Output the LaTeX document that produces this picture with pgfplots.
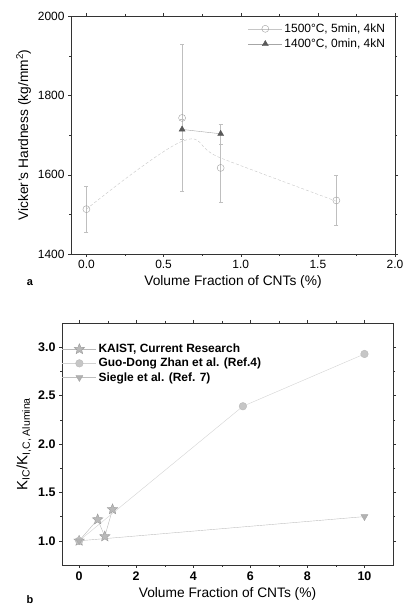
\documentclass[border=0pt]{standalone}
\usepackage{pgfplots}
\pgfplotsset{compat=1.18}
\usepackage{fontspec}
\setmainfont{Liberation Sans}

% filled five-point star
\pgfdeclareplotmark{fstar}{%
  \pgfpathmoveto{\pgfpointpolar{90}{\pgfplotmarksize}}%
  \pgfpathlineto{\pgfpointpolar{126}{0.45\pgfplotmarksize}}%
  \pgfpathlineto{\pgfpointpolar{162}{\pgfplotmarksize}}%
  \pgfpathlineto{\pgfpointpolar{198}{0.45\pgfplotmarksize}}%
  \pgfpathlineto{\pgfpointpolar{234}{\pgfplotmarksize}}%
  \pgfpathlineto{\pgfpointpolar{270}{0.45\pgfplotmarksize}}%
  \pgfpathlineto{\pgfpointpolar{306}{\pgfplotmarksize}}%
  \pgfpathlineto{\pgfpointpolar{342}{0.45\pgfplotmarksize}}%
  \pgfpathlineto{\pgfpointpolar{18}{\pgfplotmarksize}}%
  \pgfpathlineto{\pgfpointpolar{54}{0.45\pgfplotmarksize}}%
  \pgfpathclose
  \pgfusepathqfillstroke
}

\pgfplotsset{
  common/.style={
    scale only axis,
    axis line style={black!80},
    tick align=outside,
    major tick length=3bp,
    minor tick length=2bp,
    tick style={black!80},
    /pgf/number format/assume math mode=true,
    /pgf/number format/1000 sep={},
    label style={font=\fontsize{13.8}{15}\selectfont},
    legend cell align=left,
    legend image code/.code={\draw[mark repeat=2,mark phase=2]
      plot coordinates {(0bp,0bp) (17bp,0bp) (34bp,0bp)};},
  }
}

\begin{document}
\begin{tikzpicture}[x=1bp,y=1bp]
\useasboundingbox (0,0) rectangle (406,609);

% ---- panel a
\begin{axis}[common,
  at={(71bp,355bp)}, anchor=south west,
  width=324bp, height=238bp,
  xmin=-0.1, xmax=2.0, ymin=1400, ymax=2000,
  xtick={0,0.5,1,1.5,2}, ytick={1400,1600,1800,2000},
  minor x tick num=1, minor y tick num=1,
  xticklabel style={/pgf/number format/.cd, fixed, fixed zerofill, precision=1},
  tick label style={font=\fontsize{12}{13}\selectfont},
  xlabel={Volume Fraction of CNTs (\%)},
  ylabel={Vicker's Hardness (kg/mm\textsuperscript{2})},
  legend style={draw=none, fill=none, at={(0.985,0.985)}, anchor=north east,
    font=\fontsize{12}{13}\selectfont, row sep=1bp},
]
  \addlegendimage{gray!45, thin, mark=o, mark size=3.5bp, mark options={gray!75, fill=white}}
  \addlegendentry{1500°C, 5min, 4kN}
  \addlegendimage{gray!70, thin, mark=triangle*, mark size=3.5bp, mark options={black!65}}
  \addlegendentry{1400°C, 0min, 4kN}

  % B-spline-like connecting line of the 1500 C series
  \addplot[gray!45, thin, densely dashed, smooth, tension=0.6, forget plot] coordinates {
    (0,1513) (0.62,1684) (0.87,1642) (1.62,1533)
  };
  \addplot[forget plot, draw=none, mark=o, mark size=3.5bp, mark options={gray!75, fill=white},
    error bars/.cd, y dir=both, y explicit,
    error bar style={gray!50}, error mark options={gray!50, rotate=90, mark size=2bp}]
    coordinates {
    (0,1513) +- (0,59)
    (0.62,1743) +- (0,185)
    (0.87,1617) +- (0,86)
    (1.62,1535) +- (0,63)
  };
  \addplot[forget plot, gray!70, thin, mark=triangle*, mark size=3.5bp, mark options={black!65},
    error bars/.cd, y dir=both, y explicit,
    error bar style={gray!50}, error mark options={gray!50, rotate=90, mark size=2bp}]
    coordinates {
    (0.62,1714) +- (0,25)
    (0.87,1703) +- (0,25)
  };
\end{axis}
\node[font=\bfseries\fontsize{11}{12}\selectfont] at (30,326) {a};

% ---- panel b
\begin{axis}[common,
  at={(62bp,44bp)}, anchor=south west,
  width=331bp, height=242bp,
  xmin=-0.6, xmax=11, ymin=0.75, ymax=3.25,
  xtick={0,2,4,6,8,10}, ytick={1,1.5,2,2.5,3},
  minor x tick num=1, minor y tick num=1,
  yticklabel style={/pgf/number format/.cd, fixed, fixed zerofill, precision=1},
  tick label style={font=\bfseries\fontsize{12.5}{13}\selectfont},
  xlabel={Volume Fraction of CNTs (\%)},
  ylabel={K\textsubscript{IC}/K\textsubscript{I,C, Alumina}},
  ylabel style={font=\fontsize{15}{16}\selectfont},
  legend style={draw=none, fill=none, at={(0,0.93)}, anchor=north west,
    inner xsep=0bp, font=\bfseries\fontsize{12}{13}\selectfont, row sep=0bp},
]
  \addplot[gray!55, thin, mark=fstar, mark size=5.5bp, mark options={fill=gray!55, draw=gray!80}]
    coordinates {(0,1.0) (0.65,1.22) (0.9,1.045) (1.17,1.325)};
  \addlegendentry{KAIST, Current Research}
  \addplot[gray!35, thin, mark=*, mark size=3.8bp, mark options={fill=gray!45, draw=gray!55}]
    coordinates {(0,1.0) (5.74,2.39) (10,2.93)};
  \addlegendentry{Guo-Dong Zhan et al. (Ref.4)}
  \addplot[gray!50, thin, mark=triangle*, mark size=4bp, mark options={rotate=180, fill=gray!60, draw=gray!70}]
    coordinates {(0,1.0) (10,1.25)};
  \addlegendentry{Siegle et al. (Ref. 7)}
\end{axis}
\node[font=\bfseries\fontsize{11}{12}\selectfont] at (30,9) {b};
\end{tikzpicture}
\end{document}
